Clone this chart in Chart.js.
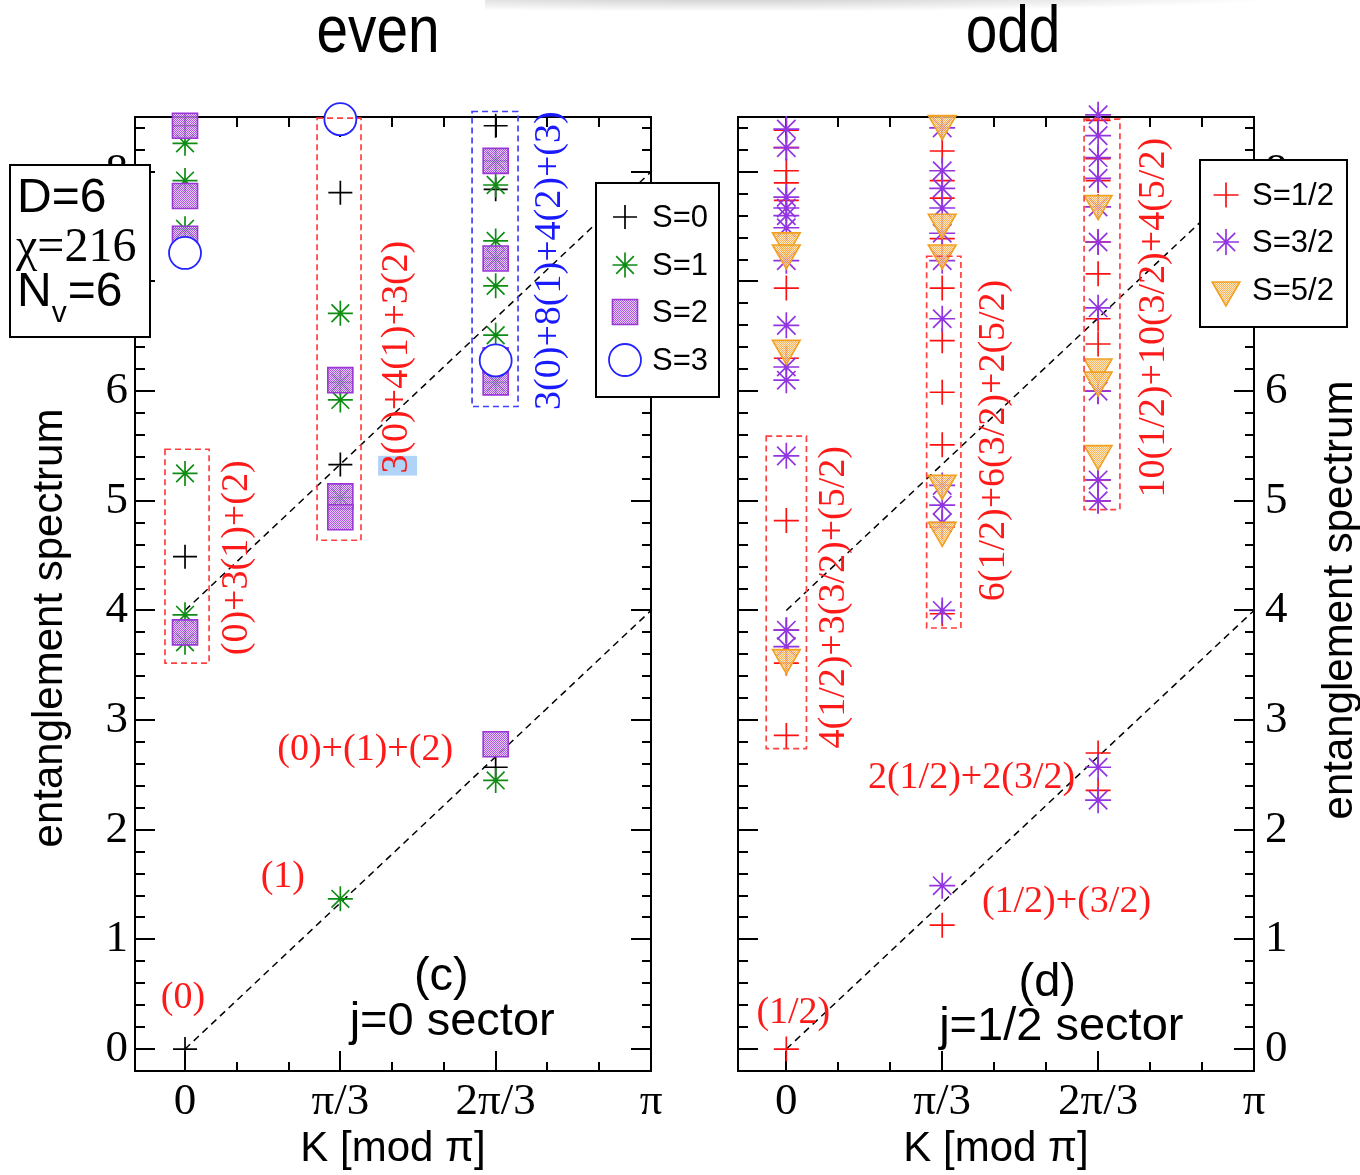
<!DOCTYPE html>
<html>
<head>
<meta charset="utf-8">
<title>entanglement spectrum</title>
<script src="https://cdn.jsdelivr.net/npm/chart.js@4/dist/chart.umd.min.js"></script>
<style>
  html, body { margin:0; padding:0; background:#fff; }
  #page { position:relative; width:1360px; height:1175px; overflow:hidden; background:#fff; }
  #shade { position:absolute; left:485px; top:-4px; width:820px; height:16px;
           background: radial-gradient(ellipse at 30% 0%, rgba(0,0,0,0.22), rgba(0,0,0,0) 70%); }
  canvas { position:absolute; top:0; }
  #cEven { left:0; }
  #cOdd { left:690px; }
</style>
</head>
<body>
<div id="page">
  <div id="shade"></div>
  <canvas id="cEven" width="730" height="1175"></canvas>
  <canvas id="cOdd" width="670" height="1175"></canvas>
</div>
<script>
// ================= DATA =================
// K is given in units of pi/3 ; values are entanglement energies
const kTickLabels = ['0', 'π/3', '2π/3', 'π'];
const eTickLabels = ['0', '1', '2', '3', '4', '5', '6', '7', '8'];

// ---- even panel, j=0 sector ----
const evenS0 = [[0, 0.00], [0, 4.49], [0, 8.42],
                [1, 8.43], [1, 7.81], [1, 5.33],
                [2, 2.57], [2, 8.42], [2, 7.84], [2, 6.30]];
const evenS1 = [[0, 5.25], [0, 3.96], [0, 3.71], [0, 8.26], [0, 7.92], [0, 7.48],
                [1, 1.37], [1, 6.71], [1, 6.08], [1, 5.92], [1, 5.03],
                [2, 2.45], [2, 8.10], [2, 7.88], [2, 7.37], [2, 7.21], [2, 6.96], [2, 6.51], [2, 6.28], [2, 6.08]];
const evenS2 = [[0, 3.80], [0, 8.42], [0, 7.78], [0, 7.39],
                [1, 6.10], [1, 5.04], [1, 4.85],
                [2, 2.78], [2, 8.10], [2, 7.21], [2, 6.08], [2, 6.28]];
const evenS3 = [[0, 7.26], [1, 8.48], [2, 6.28]];

// ---- odd panel, j=1/2 sector ----
const oddS12 = [[0, 0.00], [0, 2.86], [0, 3.52], [0, 3.82], [0, 4.82],
                [0, 8.38], [0, 8.22], [0, 8.01], [0, 7.90], [0, 7.74], [0, 6.94], [0, 6.30],
                [1, 1.13], [1, 3.97], [1, 4.76], [1, 5.51], [1, 5.99], [1, 6.46], [1, 6.94],
                [1, 8.19], [1, 7.92], [1, 7.76], [1, 7.39],
                [2, 2.36], [2, 2.70],
                [2, 8.47], [2, 8.12], [2, 7.92], [2, 7.36], [2, 7.07], [2, 6.66], [2, 6.43], [2, 6.00], [2, 5.19], [2, 5.00]];
const oddS32 = [[0, 5.41], [0, 3.82], [0, 3.67],
                [0, 8.39], [0, 8.22], [0, 7.77], [0, 7.67], [0, 7.60], [0, 7.49], [0, 7.19], [0, 6.60], [0, 6.22], [0, 6.10],
                [1, 1.49],
                [1, 8.40], [1, 8.01], [1, 7.85], [1, 7.67], [1, 7.44], [1, 7.19], [1, 6.66], [1, 5.14], [1, 4.96], [1, 4.80], [1, 4.00],
                [2, 2.57], [2, 2.27],
                [2, 8.52], [2, 8.33], [2, 8.13], [2, 7.94], [2, 7.68], [2, 7.36], [2, 6.76], [2, 6.00], [2, 5.19], [2, 5.00]];
const oddS52 = [[0, 3.57], [0, 7.37], [0, 7.26], [0, 6.39],
                [1, 8.44], [1, 7.54], [1, 7.26], [1, 5.16], [1, 4.73],
                [2, 7.71], [2, 6.22], [2, 6.10], [2, 5.43]];

// dashed guide lines (K in pi/3 units, energy)
const guideLower = [[0, 0], [3, 4]];
const guideUpper = [[0, 4], [3, 8]];

// ================= AXIS RANGES =================
const Y_MIN = -0.2, Y_MAX = 8.5, X_MAX = 3;
const X_TICKS = []; for (let i = 0; i <= 9; i++) X_TICKS.push(i / 3);
const Y_TICKS = []; for (let i = 0; i <= 42; i++) Y_TICKS.push(Math.round(i * 2) / 10);
const isInt = v => Math.abs(v - Math.round(v)) < 1e-6;

// ================= STYLES =================
function dotPattern(canvasId, dot, base) {
  const c = document.createElement('canvas'); c.width = 2; c.height = 2;
  const g = c.getContext('2d');
  g.fillStyle = base; g.fillRect(0, 0, 2, 2);
  g.clearRect(0, 0, 1, 1); g.clearRect(1, 1, 1, 1);
  g.fillStyle = dot; g.fillRect(0, 0, 1, 1); g.fillRect(1, 1, 1, 1);
  return document.getElementById(canvasId).getContext('2d').createPattern(c, 'repeat');
}
function makeStyles(canvasId) {
  return {
    plusBlack: { pointStyle: 'cross', radius: 12, borderWidth: 1.7, stroke: '#000000', fill: 'rgba(0,0,0,0)' },
    starGreen: { pointStyle: 'star', radius: 12.5, borderWidth: 1.7, stroke: '#0f8c14', fill: 'rgba(0,0,0,0)' },
    squarePurple: { pointStyle: 'rect', radius: 17.7, borderWidth: 1.6, stroke: '#9a36d6',
                    fill: dotPattern(canvasId, 'rgba(160,70,220,0.9)', 'rgba(222,190,246,0.75)') },
    circleBlue: { pointStyle: 'circle', radius: 16, borderWidth: 1.8, stroke: '#2424ff', fill: '#ffffff' },
    plusRed: { pointStyle: 'cross', radius: 12.5, borderWidth: 1.7, stroke: '#ff1010', fill: 'rgba(0,0,0,0)' },
    starPurple: { pointStyle: 'star', radius: 13, borderWidth: 1.7, stroke: '#9235e0', fill: 'rgba(0,0,0,0)' },
    triOrange: { pointStyle: 'triangle', radius: 16, rotation: 180, borderWidth: 1.6, stroke: '#f2a020',
                 fill: dotPattern(canvasId, 'rgba(245,165,60,0.85)', 'rgba(255,228,190,0.8)') }
  };
}

function scatterSet(label, pts, st, order) {
  return {
    label, order, clip: false, showLine: false,
    data: pts.map(([x, y]) => ({ x, y })),
    pointStyle: st.pointStyle, pointRadius: st.radius, pointHoverRadius: st.radius,
    pointRotation: st.rotation || 0,
    borderColor: st.stroke, backgroundColor: st.fill, borderWidth: st.borderWidth
  };
}
function guideSet(pts) {
  return {
    label: 'guide', order: 10, showLine: true, fill: false,
    data: pts.map(([x, y]) => ({ x, y })),
    borderColor: '#000', borderWidth: 1.5, borderDash: [7, 5], pointRadius: 0, pointHoverRadius: 0
  };
}

// ================= AXES =================
function axis(id, position, o) {
  const horiz = position === 'top' || position === 'bottom';
  const vals = horiz ? X_TICKS : Y_TICKS;
  const innerFirst = position === 'left' || position === 'top';
  const cfg = {
    axis: horiz ? 'x' : 'y', type: 'linear', position, bounds: 'data',
    min: horiz ? o.xmin : Y_MIN, max: horiz ? X_MAX : Y_MAX,
    afterBuildTicks: s => { s.ticks = vals.map(v => ({ value: v })); },
    afterFit: s => { if (horiz) s.height = o.size; else s.width = o.size; },
    border: { display: true, color: '#000', width: 2 },
    grid: {
      drawOnChartArea: false, drawTicks: true, tickLength: -20, lineWidth: 2, tickWidth: 2, tickColor: '#000',
      tickBorderDash: c => (c.tick && !isInt(c.tick.value)) ? (innerFirst ? [10, 10] : [10, 20]) : [],
      tickBorderDashOffset: c => (c.tick && !isInt(c.tick.value) && innerFirst) ? 10 : 0
    },
    ticks: { display: false, autoSkip: false, maxRotation: 0, minRotation: 0 }
  };
  if (o.labels) {
    cfg.ticks = {
      display: true, autoSkip: false, maxRotation: 0, minRotation: 0, color: '#000',
      padding: o.padding,
      font: { family: '"Liberation Serif", "DejaVu Serif", serif', size: 45, lineHeight: horiz ? 2 : 1.2 },
      callback: v => isInt(v) ? (horiz ? kTickLabels[Math.round(v)] : eTickLabels[Math.round(v)]) : ''
    };
  }
  if (o.title) {
    cfg.title = { display: true, text: o.title, color: '#000',
                  font: { family: '"Liberation Sans", Arial, sans-serif', size: 42 }, padding: { top: 0, bottom: 0 } };
  }
  return cfg;
}

// ================= DECORATION PLUGIN =================
function drawMarker(ctx, st, x, y) {
  ctx.save();
  ctx.fillStyle = st.fill; ctx.strokeStyle = st.stroke; ctx.lineWidth = st.borderWidth;
  Chart.helpers.drawPoint(ctx, { pointStyle: st.pointStyle, radius: st.radius, rotation: st.rotation || 0,
                                 borderWidth: st.borderWidth }, x, y);
  ctx.restore();
}
const SANS = '"Liberation Sans", Arial, sans-serif';
const SERIF = '"Liberation Serif", "Times New Roman", serif';

function panelPlugin(cfg) {
  return {
    id: 'panelDeco',
    afterDraw(chart) {
      const ctx = chart.ctx;
      const px = v => chart.scales.x.getPixelForValue(v);
      const py = v => chart.scales.y.getPixelForValue(v);
      ctx.save();
      // dashed grouping boxes
      cfg.boxes.forEach(b => {
        ctx.save();
        ctx.strokeStyle = b.color; ctx.lineWidth = 1.7; ctx.setLineDash([6, 4]);
        const x0 = px(b.x0), x1 = px(b.x1), y0 = py(b.y0), y1 = py(b.y1);
        ctx.strokeRect(Math.min(x0, x1), Math.min(y0, y1), Math.abs(x1 - x0), Math.abs(y1 - y0));
        ctx.restore();
      });
      // selection highlight
      if (cfg.highlight) {
        const h = cfg.highlight;
        ctx.fillStyle = 'rgba(150,196,245,0.75)';
        const x0 = px(h.x0), x1 = px(h.x1), y0 = py(h.y0), y1 = py(h.y1);
        ctx.fillRect(Math.min(x0, x1), Math.min(y0, y1), Math.abs(x1 - x0), Math.abs(y1 - y0));
      }
      // annotation texts
      cfg.notes.forEach(n => {
        ctx.save();
        ctx.fillStyle = n.color; ctx.font = n.font;
        ctx.textAlign = 'center'; ctx.textBaseline = 'middle';
        ctx.translate(px(n.x), py(n.y));
        if (n.rot) ctx.rotate(-Math.PI / 2);
        ctx.fillText(n.text, 0, 0);
        ctx.restore();
      });
      // panel title
      ctx.save();
      ctx.fillStyle = '#000'; ctx.font = '66px ' + SANS; ctx.textAlign = 'center'; ctx.textBaseline = 'alphabetic';
      ctx.translate(cfg.titleX, 52); ctx.scale(0.86, 1);
      ctx.fillText(cfg.title, 0, 0);
      ctx.restore();
      // y axis title
      ctx.save();
      ctx.fillStyle = '#000'; ctx.font = '42px ' + SANS; ctx.textAlign = 'center'; ctx.textBaseline = 'middle';
      ctx.translate(cfg.yTitleX, cfg.yTitleY); ctx.rotate(-Math.PI / 2);
      ctx.fillText('entanglement spectrum', 0, 0);
      ctx.restore();
      // legend
      const L = cfg.legend;
      ctx.fillStyle = '#fff'; ctx.fillRect(L.x, L.y, L.w, L.h);
      ctx.strokeStyle = '#000'; ctx.lineWidth = 2; ctx.setLineDash([]);
      ctx.strokeRect(L.x, L.y, L.w, L.h);
      L.rows.forEach(r => {
        drawMarker(ctx, r.style, L.markerX, r.y);
        ctx.fillStyle = '#000'; ctx.font = '31px ' + SANS; ctx.textAlign = 'left'; ctx.textBaseline = 'middle';
        ctx.fillText(r.label, L.textX, r.y + 1);
      });
      // parameter box
      if (cfg.info) {
        ctx.fillStyle = '#fff'; ctx.fillRect(10, 165, 140, 172);
        ctx.strokeStyle = '#000'; ctx.lineWidth = 2; ctx.strokeRect(10, 165, 140, 172);
        ctx.fillStyle = '#000'; ctx.textAlign = 'left'; ctx.textBaseline = 'alphabetic';
        ctx.font = '48px ' + SANS; ctx.fillText('D=6', 17, 212);
        ctx.font = '48px ' + SERIF; ctx.fillText('χ=216', 16, 261);
        ctx.font = '48px ' + SANS; ctx.fillText('N', 17, 306);
        const wN = ctx.measureText('N').width;
        ctx.font = '30px ' + SANS; ctx.fillText('v', 17 + wN, 322);
        const wv = ctx.measureText('v').width;
        ctx.font = '48px ' + SANS; ctx.fillText('=6', 17 + wN + wv + 1, 306);
      }
      ctx.restore();
    }
  };
}

// ================= BUILD CHARTS =================
const RED_TXT = '#ff1a1a', BLUE_TXT = '#1a1aff';
const NOTE_FONT = '38px ' + SERIF;
const LABEL_FONT = '47px ' + SANS;

function makeChart(canvasId, sets, axes, deco) {
  return new Chart(document.getElementById(canvasId), {
    type: 'scatter',
    data: { datasets: sets },
    options: {
      responsive: false, animation: false, events: [],
      layout: { padding: 0 },
      plugins: { legend: { display: false }, tooltip: { enabled: false }, title: { display: false } },
      scales: axes
    },
    plugins: [panelPlugin(deco)]
  });
}

// ---- even ----
const stE = makeStyles('cEven');
makeChart('cEven',
  [guideSet(guideLower), guideSet(guideUpper),
   scatterSet('S=0', evenS0, stE.plusBlack, 4),
   scatterSet('S=1', evenS1, stE.starGreen, 3),
   scatterSet('S=2', evenS2, stE.squarePurple, 2),
   scatterSet('S=3', evenS3, stE.circleBlue, 1)],
  {
    x: axis('x', 'bottom', { xmin: -0.322, size: 104, labels: true, padding: 6, title: 'K [mod π]' }),
    x2: axis('x2', 'top', { xmin: -0.322, size: 117 }),
    y: axis('y', 'left', { size: 135, labels: true, padding: 27 }),
    y2: axis('y2', 'right', { size: 79 })
  },
  {
    title: 'even', titleX: 378, yTitleX: 50, yTitleY: 628, info: true,
    boxes: [
      { x0: -0.129, x1: 0.155, y0: 5.47, y1: 3.52, color: '#ff4040' },
      { x0: 0.85, x1: 1.133, y0: 8.49, y1: 4.64, color: '#ff4040' },
      { x0: 1.848, x1: 2.144, y0: 8.55, y1: 5.86, color: '#4040ff' }
    ],
    highlight: { x0: 1.243, x1: 1.494, y0: 5.41, y1: 5.23 },
    notes: [
      { text: '(0)', x: -0.013, y: 0.465, font: NOTE_FONT, color: RED_TXT },
      { text: '(1)', x: 0.63, y: 1.57, font: NOTE_FONT, color: RED_TXT },
      { text: '(0)+(1)+(2)', x: 1.16, y: 2.73, font: NOTE_FONT, color: RED_TXT },
      { text: '(0)+3(1)+(2)', x: 0.335, y: 4.48, font: NOTE_FONT, color: RED_TXT, rot: true },
      { text: '3(0)+4(1)+3(2)', x: 1.365, y: 6.31, font: NOTE_FONT, color: RED_TXT, rot: true },
      { text: '3(0)+8(1)+4(2)+(3)', x: 2.35, y: 7.19, font: NOTE_FONT, color: BLUE_TXT, rot: true },
      { text: '(c)', x: 1.65, y: 0.66, font: LABEL_FONT, color: '#000' },
      { text: 'j=0 sector', x: 1.72, y: 0.25, font: LABEL_FONT, color: '#000' }
    ],
    legend: {
      x: 596, y: 183, w: 123, h: 214, markerX: 625, textX: 652,
      rows: [
        { y: 217, label: 'S=0', style: stE.plusBlack },
        { y: 265, label: 'S=1', style: stE.starGreen },
        { y: 312, label: 'S=2', style: stE.squarePurple },
        { y: 360, label: 'S=3', style: stE.circleBlue }
      ]
    }
  });

// ---- odd ----
const stO = makeStyles('cOdd');
makeChart('cOdd',
  [guideSet(guideLower), guideSet(guideUpper),
   scatterSet('S=1/2', oddS12, stO.plusRed, 3),
   scatterSet('S=3/2', oddS32, stO.starPurple, 2),
   scatterSet('S=5/2', oddS52, stO.triOrange, 1)],
  {
    x: axis('x', 'bottom', { xmin: -0.31, size: 104, labels: true, padding: 6, title: 'K [mod π]' }),
    x2: axis('x2', 'top', { xmin: -0.31, size: 117 }),
    y: axis('y', 'left', { size: 48 }),
    y2: axis('y2', 'right', { size: 106, labels: true, padding: 31 })
  },
  {
    title: 'odd', titleX: 323, yTitleX: 650, yTitleY: 600, info: false,
    boxes: [
      { x0: -0.129, x1: 0.129, y0: 5.59, y1: 2.74, color: '#ff4040' },
      { x0: 0.90, x1: 1.12, y0: 7.23, y1: 3.84, color: '#ff4040' },
      { x0: 1.91, x1: 2.14, y0: 8.48, y1: 4.92, color: '#ff4040' }
    ],
    notes: [
      { text: '(1/2)', x: 0.045, y: 0.33, font: NOTE_FONT, color: RED_TXT },
      { text: '(1/2)+(3/2)', x: 1.797, y: 1.34, font: NOTE_FONT, color: RED_TXT },
      { text: '2(1/2)+2(3/2)', x: 1.188, y: 2.47, font: NOTE_FONT, color: RED_TXT },
      { text: '4(1/2)+3(3/2)+(5/2)', x: 0.309, y: 4.12, font: NOTE_FONT, color: RED_TXT, rot: true },
      { text: '6(1/2)+6(3/2)+2(5/2)', x: 1.333, y: 5.55, font: NOTE_FONT, color: RED_TXT, rot: true },
      { text: '10(1/2)+10(3/2)+4(5/2)', x: 2.357, y: 6.67, font: NOTE_FONT, color: RED_TXT, rot: true },
      { text: '(d)', x: 1.674, y: 0.60, font: LABEL_FONT, color: '#000' },
      { text: 'j=1/2 sector', x: 1.764, y: 0.20, font: LABEL_FONT, color: '#000' }
    ],
    legend: {
      x: 510, y: 160, w: 147, h: 167, markerX: 536, textX: 562,
      rows: [
        { y: 195, label: 'S=1/2', style: stO.plusRed },
        { y: 242, label: 'S=3/2', style: stO.starPurple },
        { y: 290, label: 'S=5/2', style: stO.triOrange }
      ]
    }
  });
</script>
</body>
</html>
